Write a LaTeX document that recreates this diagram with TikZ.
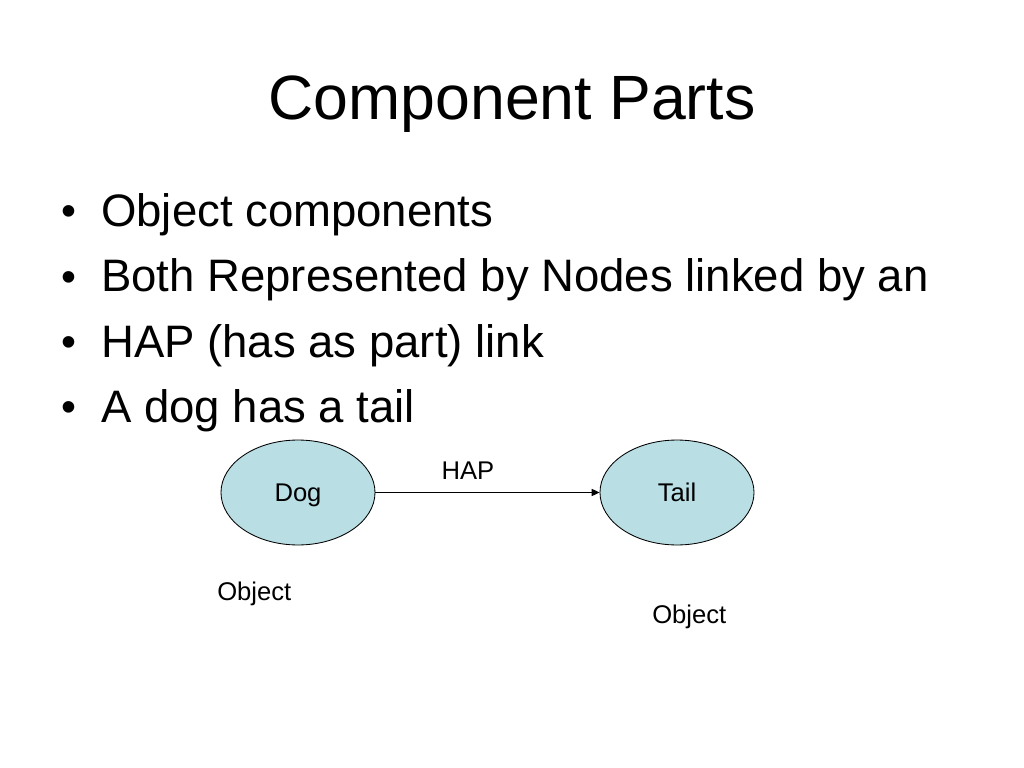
\documentclass[tikz,border=0pt]{standalone}
\usepackage{fontspec}
\setmainfont{Liberation Sans}
\usetikzlibrary{shapes.geometric,arrows.meta}
\definecolor{partfill}{RGB}{185,222,228}
\tikzset{
  slidetitle/.style={anchor=base, inner sep=0pt, font=\fontsize{44}{53}\selectfont},
  bullettext/.style={anchor=base west, inner sep=0pt, font=\fontsize{32}{38}\selectfont},
  bulletdot/.style={anchor=base, inner sep=0pt, font=\fontsize{30}{36}\selectfont},
  partnode/.style={ellipse, draw=black, line width=0.6pt, fill=partfill, inner sep=0pt,
    text height=12.9pt, text depth=0pt,
    minimum width=108.3pt, minimum height=73.8pt, font=\fontsize{18}{22}\selectfont},
  smalllabel/.style={inner sep=0pt, font=\fontsize{18}{22}\selectfont}
}
\begin{document}
\begin{tikzpicture}[x=0.703125pt, y=-0.703125pt]
            \useasboundingbox[fill=white] (0,0) rectangle (1024,768);

            \node[slidetitle] (title) at (512,120) {Component Parts};

            \node[bulletdot] (bul1) at (69,226) {•};
            \node[bulletdot] (bul2) at (69,291) {•};
            \node[bulletdot] (bul3) at (69,356) {•};
            \node[bulletdot] (bul4) at (69,421) {•};

            \node[bullettext] (item1) at (101,227) {Object components};
            \node[bullettext] (item2) at (101,292) {Both Represented by Nodes linked by an};
            \node[bullettext] (item3) at (101,357) {HAP (has as part) link};
            \node[bullettext] (item4) at (101,422) {A dog has a tail};

            \node[partnode] (dog) at (298,492.5) {Dog};
            \node[partnode] (tail) at (677,492.5) {Tail};

            \draw[line width=0.7pt, -{Triangle[length=5.5pt, width=5pt]}] (dog) -- (tail);

            \node[smalllabel, anchor=base] (hap) at (468,479) {HAP};
            \node[smalllabel, anchor=base west] (objdog) at (217,600) {Object};
            \node[smalllabel, anchor=base west] (objtail) at (652,623) {Object};
        \end{tikzpicture}
\end{document}
